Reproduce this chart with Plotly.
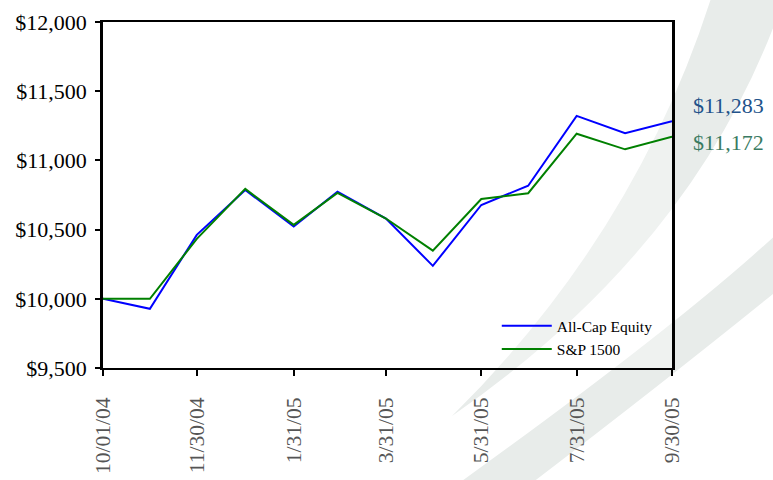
import plotly.graph_objects as go

# ---------------- data ----------------
dates = ["2004-10-01", "2004-10-31", "2004-11-30", "2004-12-31", "2005-01-31",
         "2005-02-28", "2005-03-31", "2005-04-30", "2005-05-31", "2005-06-30",
         "2005-07-31", "2005-08-31", "2005-09-30"]
all_cap = [10000, 9928, 10462, 10786, 10522, 10774, 10580, 10238, 10678, 10817,
           11322, 11196, 11283]
sp1500 = [10000, 10000, 10433, 10794, 10534, 10765, 10580, 10348, 10721, 10763,
          11193, 11080, 11172]
series_names = ["All-Cap Equity", "S&P 1500"]
tick_dates = ["2004-10-01", "2004-11-30", "2005-01-31", "2005-03-31",
              "2005-05-31", "2005-07-31", "2005-09-30"]
tick_labels = ["10/01/04", "11/30/04", "1/31/05", "3/31/05", "5/31/05",
               "7/31/05", "9/30/05"]
y_ticks = [9500, 10000, 10500, 11000, 11500, 12000]

# ---------------- styling ----------------
W, H = 773, 480
L, R, T, B = 103, 101, 22, 112
PW, PH = W - L - R, H - T - B
SERIF = "Liberation Serif, Times New Roman, serif"


def P(x, y):
    return f"{(x - L) / PW:.4f},{(H - B - y) / PH:.4f}"


swoosh_a = (f"M{P(713, -8)} Q{P(638, 232)} {P(452, 416)} "
            f"Q{P(703, 242)} {P(786, -8)} Z")
swoosh_b = (f"M{P(800, 212)} Q{P(700, 310)} {P(455, 486)} "
            f"L{P(528, 486)} Q{P(680, 370)} {P(800, 272)} Z")
band_color = "rgb(232,236,234)"

fig = go.Figure()
fig.add_trace(go.Scatter(x=dates, y=all_cap, mode="lines", name=series_names[0],
                         line=dict(color="#0000ff", width=2), hoverinfo="x+y"))
fig.add_trace(go.Scatter(x=dates, y=sp1500, mode="lines", name=series_names[1],
                         line=dict(color="#008000", width=2), hoverinfo="x+y"))

fig.add_annotation(x=dates[-1], y=all_cap[-1], text=f"${all_cap[-1]:,.0f}",
                   showarrow=False, xanchor="left", yanchor="middle",
                   xshift=19, yshift=16,
                   font=dict(family=SERIF, size=22, color="#22528a"))
fig.add_annotation(x=dates[-1], y=sp1500[-1], text=f"${sp1500[-1]:,.0f}",
                   showarrow=False, xanchor="left", yanchor="middle",
                   xshift=19, yshift=-6,
                   font=dict(family=SERIF, size=22, color="#3a7b62"))

fig.update_layout(
    width=W, height=H,
    margin=dict(l=L, r=R, t=T, b=B, autoexpand=False),
    paper_bgcolor="white",
    plot_bgcolor="rgba(0,0,0,0)",
    showlegend=True,
    legend=dict(x=0.975, y=0.005, xanchor="right", yanchor="bottom",
                bgcolor="rgba(0,0,0,0)", borderwidth=0, itemwidth=50,
                font=dict(family=SERIF, size=15.5, color="black")),
    shapes=[
        dict(type="path", path=swoosh_a, xref="paper", yref="paper",
             fillcolor=band_color, line=dict(width=0), layer="below"),
        dict(type="path", path=swoosh_b, xref="paper", yref="paper",
             fillcolor=band_color, line=dict(width=0), layer="below"),
        dict(type="rect", x0=0, x1=1, y0=0, y1=1, xref="paper", yref="paper",
             fillcolor="rgba(255,255,255,0.3)", line=dict(width=0),
             layer="below"),
    ],
    xaxis=dict(type="date", range=[dates[0], dates[-1]], automargin=False,
               tickvals=tick_dates, ticktext=tick_labels, tickangle=-90,
               ticks="outside", ticklen=6, tickwidth=2, tickcolor="black",
               showline=True, linecolor="black", linewidth=2, mirror=True,
               showgrid=False, zeroline=False, ticklabelstandoff=13,
               tickfont=dict(family=SERIF, size=21.5, color="#555555")),
    yaxis=dict(range=[9500, 12000], tickvals=y_ticks, tickformat="$,.0f",
               automargin=False,
               ticks="outside", ticklen=5, tickwidth=2, tickcolor="black",
               showline=True, linecolor="black", linewidth=2.5, mirror=True,
               showgrid=False, zeroline=False, ticklabelstandoff=4,
               tickfont=dict(family=SERIF, size=22, color="black")),
)

fig.write_html(
    "out.html",
    config={"displayModeBar": False},
    post_script="document.body.style.margin='0';document.body.style.overflow='hidden';",
)
